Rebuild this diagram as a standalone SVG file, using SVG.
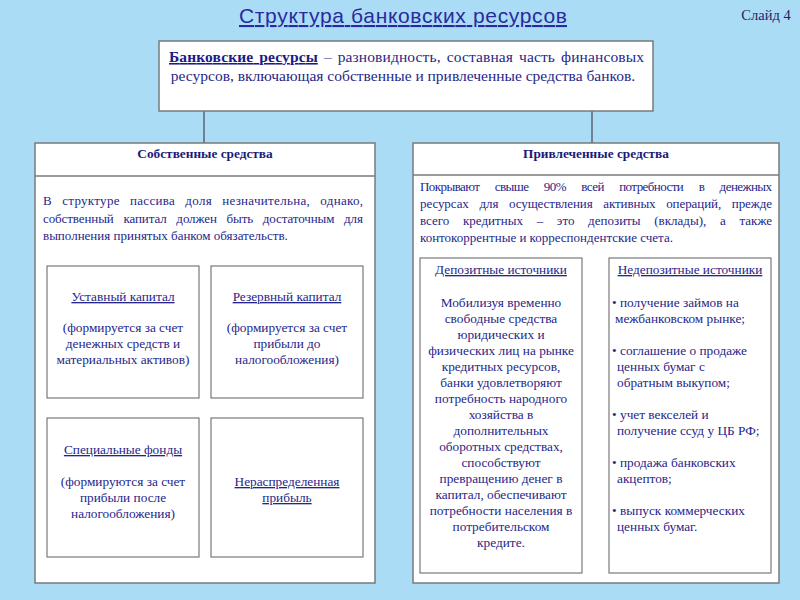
<svg xmlns="http://www.w3.org/2000/svg" width="800" height="600" viewBox="0 0 800 600">
<style>
.bg{fill:#ABDCF6}
.big{fill:#ffffff;stroke:#7a7a7a;stroke-width:1.5}
.sm{fill:#ffffff;stroke:#7a7a7a;stroke-width:1.2}
.con{stroke:#5a6470;stroke-width:1.5;fill:none}
.t{font-family:"Liberation Serif","DejaVu Serif",serif;fill:#26268a;font-size:13.3px}
.p{font-size:13px}
.tp{font-size:15.5px}
.c{text-anchor:middle}
.hd{font-family:"Liberation Serif","DejaVu Serif",serif;fill:#1a1a7a;font-size:13.3px;font-weight:bold;text-anchor:middle}
.u{text-decoration:underline}
</style>
<rect class="bg" x="0" y="0" width="800" height="600"/>
<text x="403" y="23" text-anchor="middle" font-family="Liberation Sans, Arial, sans-serif" font-size="21" fill="#2a2aa0" text-decoration="underline" textLength="328" lengthAdjust="spacing">Структура банковских ресурсов</text>
<text x="766" y="20" text-anchor="middle" font-family="Liberation Serif, serif" font-size="14.5" fill="#22226a">Слайд 4</text>

<g id="connectors">
<line class="con" x1="204" y1="111" x2="204" y2="143"/>
<line class="con" x1="592" y1="111" x2="592" y2="143"/>
</g>

<g id="top">
<rect class="big" x="159" y="41" width="494" height="70"/>
<text class="t tp" x="169" y="62" word-spacing="2" textLength="475" lengthAdjust="spacing"><tspan font-weight="bold" text-decoration="underline" fill="#1a1a8a">Банковские ресурсы</tspan> – разновидность, составная часть финансовых</text>
<text class="t tp" x="403" y="81" text-anchor="middle">ресурсов, включающая собственные и привлеченные средства банков.</text>
</g>

<g id="own">
<rect class="big" x="35" y="143" width="340" height="440"/>
<line x1="35" y1="176" x2="375" y2="176" stroke="#7a7a7a" stroke-width="1.5"/>
<text class="hd" x="205" y="158">Собственные средства</text>
<text class="t p" x="43" y="205" word-spacing="6.6" textLength="320" lengthAdjust="spacing">В структуре пассива доля незначительна, однако,</text>
<text class="t p" x="43" y="223" word-spacing="6.6" textLength="320" lengthAdjust="spacing">собственный капитал должен быть достаточным для</text>
<text class="t p" x="43" y="240">выполнения принятых банком обязательств.</text>
</g>

<g id="ustav">
<rect class="sm" x="47" y="266" width="152" height="132"/>
<text class="t c u" x="123" y="301">Уставный капитал</text>
<text class="t c" x="123" y="332">(формируется за счет</text>
<text class="t c" x="123" y="348">денежных средств и</text>
<text class="t c" x="123" y="364">материальных активов)</text>
</g>

<g id="reserv">
<rect class="sm" x="211" y="266" width="152" height="132"/>
<text class="t c u" x="287" y="301">Резервный капитал</text>
<text class="t c" x="287" y="332">(формируется за счет</text>
<text class="t c" x="287" y="348">прибыли до</text>
<text class="t c" x="287" y="364">налогообложения)</text>
</g>

<g id="spec">
<rect class="sm" x="47" y="418" width="152" height="139"/>
<text class="t c u" x="123" y="454">Специальные фонды</text>
<text class="t c" x="123" y="486">(формируются за счет</text>
<text class="t c" x="123" y="502">прибыли после</text>
<text class="t c" x="123" y="518">налогообложения)</text>
</g>

<g id="neraspr">
<rect class="sm" x="211" y="418" width="152" height="139"/>
<text class="t c u" x="287" y="486">Нераспределенная</text>
<text class="t c u" x="287" y="502">прибыль</text>
</g>

<g id="attracted">
<rect class="big" x="413" y="143" width="366" height="440"/>
<line x1="413" y1="175" x2="779" y2="175" stroke="#7a7a7a" stroke-width="1.5"/>
<text class="hd" x="596" y="158">Привлеченные средства</text>
<text class="t p" x="420" y="191" word-spacing="12.7" textLength="352" lengthAdjust="spacing">Покрывают свыше 90% всей потребности в денежных</text>
<text class="t p" x="420" y="208" word-spacing="7.5" textLength="352" lengthAdjust="spacing">ресурсах для осуществления активных операций, прежде</text>
<text class="t p" x="420" y="225" word-spacing="10.4" textLength="352" lengthAdjust="spacing">всего кредитных – это депозиты (вклады), а также</text>
<text class="t p" x="420" y="242">контокоррентные и корреспондентские счета.</text>
</g>

<g id="deposit">
<rect class="sm" x="420" y="258" width="162" height="315"/>
<text class="t c u" x="501" y="274">Депозитные источники</text>
<text class="t c" x="501" y="307">Мобилизуя временно</text>
<text class="t c" x="501" y="323">свободные средства</text>
<text class="t c" x="501" y="339">юридических и</text>
<text class="t c" x="501" y="355">физических лиц на рынке</text>
<text class="t c" x="501" y="371">кредитных ресурсов,</text>
<text class="t c" x="501" y="387">банки удовлетворяют</text>
<text class="t c" x="501" y="403">потребность народного</text>
<text class="t c" x="501" y="419">хозяйства в</text>
<text class="t c" x="501" y="435">дополнительных</text>
<text class="t c" x="501" y="451">оборотных средствах,</text>
<text class="t c" x="501" y="467">способствуют</text>
<text class="t c" x="501" y="483">превращению денег в</text>
<text class="t c" x="501" y="499">капитал, обеспечивают</text>
<text class="t c" x="501" y="515">потребности населения в</text>
<text class="t c" x="501" y="531">потребительском</text>
<text class="t c" x="501" y="547">кредите.</text>
</g>

<g id="nondeposit">
<rect class="sm" x="609" y="258" width="162" height="315"/>
<text class="t c u" x="690" y="274">Недепозитные источники</text>
<text class="t" x="612" y="307">•  получение займов на</text>
<text class="t" x="615" y="323">межбанковском рынке;</text>
<text class="t" x="612" y="355">•  соглашение о продаже</text>
<text class="t" x="617" y="371">ценных бумаг с</text>
<text class="t" x="617" y="387">обратным выкупом;</text>
<text class="t" x="612" y="419">•  учет векселей и</text>
<text class="t" x="617" y="435">получение ссуд у ЦБ РФ;</text>
<text class="t" x="612" y="467">•  продажа банковских</text>
<text class="t" x="617" y="483">акцептов;</text>
<text class="t" x="612" y="515">•  выпуск коммерческих</text>
<text class="t" x="617" y="531">ценных бумаг.</text>
</g>
</svg>
